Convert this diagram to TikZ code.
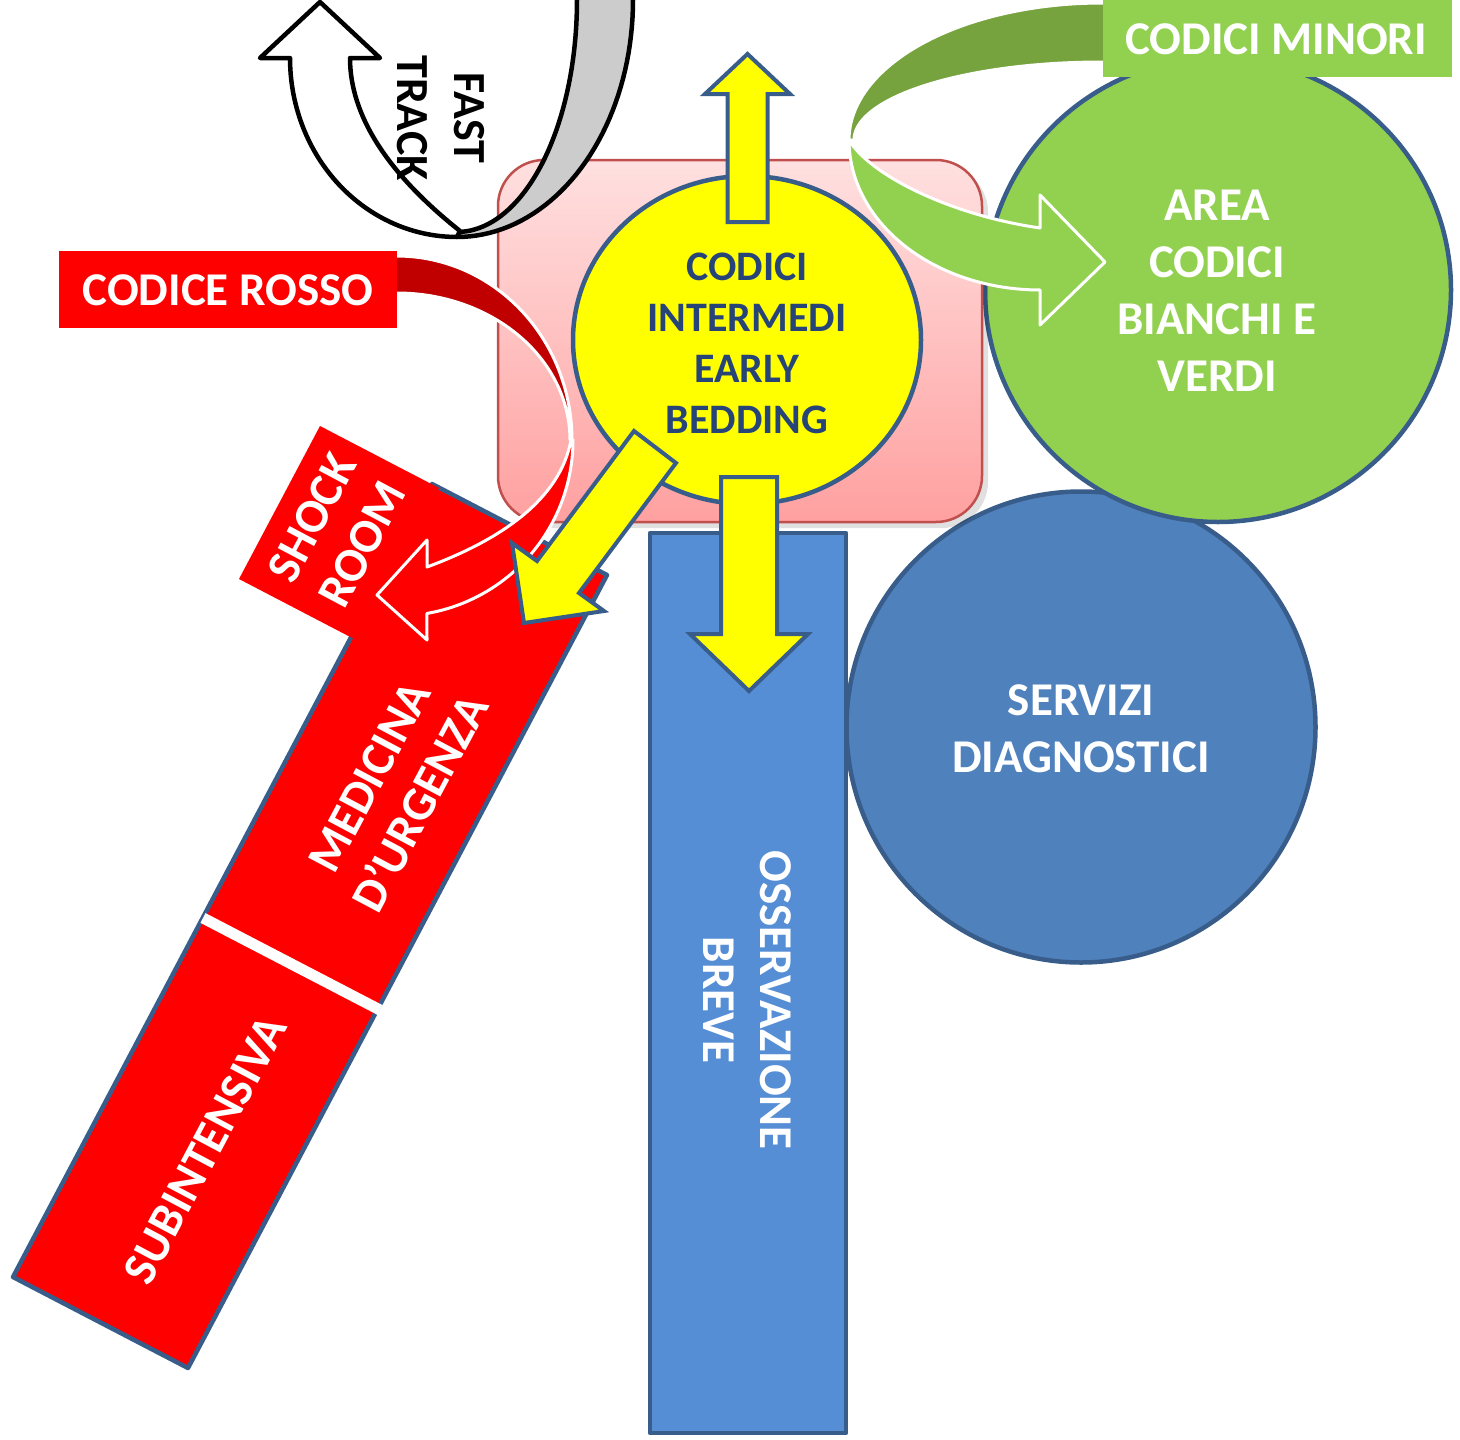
\documentclass[tikz,border=0pt]{standalone}
\usepackage{fontspec}
\setmainfont{Carlito}
\usetikzlibrary{shapes.geometric}

\definecolor{bordoblu}{HTML}{385D8A}
\definecolor{giallo}{HTML}{FFFF00}
\definecolor{testoblu}{HTML}{264478}
\definecolor{verde}{HTML}{92D050}
\definecolor{verdescuro}{HTML}{77A33F}
\definecolor{blucerchio}{HTML}{4F81BD}
\definecolor{blurett}{HTML}{558ED5}
\definecolor{rosso}{HTML}{FF0000}
\definecolor{rossoscuro}{HTML}{C00000}
\definecolor{rosacima}{HTML}{FFE0E0}
\definecolor{rosafondo}{HTML}{FFA0A0}
\definecolor{bordorosa}{HTML}{C0504D}
\definecolor{grigio}{HTML}{CCCCCC}

\tikzset{
  testo/.style={text=white, font=\bfseries\fontsize{47}{57}\selectfont, align=center, inner sep=0pt},
  testoruotato/.style={testo, font=\bfseries\fontsize{48}{57}\selectfont},
  bordato/.style={draw=bordoblu, line width=4.5pt, line join=round},
  frecciagialla/.style={fill=giallo, draw=bordoblu, line width=4pt, line join=miter},
  nastro/.style={draw=white, line width=3pt, line join=round},
  nastronero/.style={draw=black, line width=4.5pt, line join=round},
}

\begin{document}
\begin{tikzpicture}[x=1pt, y=-1pt]
\useasboundingbox (0,0) rectangle (1460,1440);

% --- Medicina d'urgenza / subintensiva bar ---
\filldraw[fill=rosso, bordato] (13,1277) coordinate (ba) -- (188,1368) coordinate (bb)
  -- (607,575) coordinate (bc) -- (432,484) coordinate (bd) -- cycle;
\draw[white, line width=11pt] (203,918) coordinate (dl) -- (380,1010) coordinate (dr);
\node[testoruotato, rotate=62] (medicina) at (395,790) {MEDICINA\\D’URGENZA};
\node[testoruotato, rotate=62] (subint) at (205,1150) {SUBINTENSIVA};

% --- Shock room tab ---
\fill[rosso] (320,426) -- (439,488) -- (358,641) -- (239,579) -- cycle;
\node[testoruotato, rotate=62] (shock) at (337,531) {SHOCK\\ROOM};

% --- Osservazione breve ---
\node[rectangle, rotate=-90, fill=blurett, bordato, minimum width=900pt, minimum height=196pt, inner sep=0pt]
  (osserv) at (748,983) {};
\node[testo, rotate=-90] (osservtxt) at (747,1000) {OSSERVAZIONE\\BREVE};

% --- Servizi diagnostici ---
\node[ellipse, fill=blucerchio, bordato, minimum width=469pt, minimum height=471pt, inner sep=0pt]
  (servizi) at (1081,727) {};
\node[testo] (servizitxt) at (1081,729) {SERVIZI\\DIAGNOSTICI};

% --- Area codici bianchi e verdi ---
\node[ellipse, fill=verde, bordato, minimum width=466pt, minimum height=464pt, inner sep=0pt]
  (area) at (1218,290) {};
\node[testo] (areatxt) at (1217,291) {AREA\\CODICI\\BIANCHI E\\VERDI};

% --- Central area with its shadow ---
\fill[black, opacity=0.12, rounded corners=46pt] (503,166) rectangle (988,528);
\node[rectangle, rounded corners=46pt, top color=rosacima, bottom color=rosafondo,
  draw=bordorosa, line width=2.5pt, minimum width=484pt, minimum height=362pt]
  (centro) at (740,341) {};

% --- Fast track curved arrow ---
\filldraw[fill=grigio, nastronero]
  plot[domain=-15:90, samples=50] ({457+176*cos(\x)},{237*sin(\x)})
  -- plot[domain=90:-15, samples=50] ({457+120*cos(\x)},{232*sin(\x)}) -- cycle;
\filldraw[fill=white, nastronero]
  plot[domain=90:180, samples=50] ({457+167*cos(\x)},{58+179*sin(\x)})
  -- (260,58) -- (320,2) -- (380,58) -- (350,58)
  .. controls (350,115) and (387,173) .. (460,231) -- cycle;
\node[font=\bfseries\fontsize{46}{57}\selectfont, align=center, inner sep=0pt, rotate=-90]
  (fast) at (441,118) {FAST\\TRACK};

% --- Codici intermedi ---
\node[ellipse, fill=giallo, bordato, minimum width=348pt, minimum height=328pt, inner sep=0pt]
  (intermedi) at (747,340) {};
\node[testo, text=testoblu, font=\bfseries\fontsize{42}{51}\selectfont] (intermeditxt) at (747,343)
  {CODICI\\INTERMEDI\\EARLY\\BEDDING};

% --- Codici minori curved arrow ---
\filldraw[fill=verdescuro, nastro]
  (1112,3) -- plot[domain=-90:-180, samples=50] ({1102+253*cos(\x)},{140+137*sin(\x)})
  -- plot[domain=-180:-90, samples=50] ({1102+248*cos(\x)},{140+78*sin(\x)}) -- (1112,62) -- cycle;
\filldraw[fill=verde, nastro]
  plot[domain=180:90, samples=50] ({1040+191*cos(\x)},{140+150*sin(\x)})
  -- (1040,325) -- (1105,262) -- (1040,195) -- (1040,228)
  .. controls (950,215) and (870,175) .. (849,140) -- cycle;
\node[rectangle, fill=verde, minimum width=349pt, minimum height=77pt, inner sep=0pt]
  (minori) at (1277.5,38.5) {};
\node[testo] (minoritxt) at (1276,39) {CODICI MINORI};

% --- Codice rosso curved arrow ---
\filldraw[fill=rossoscuro, nastro]
  (388,256) -- plot[domain=-90:0, samples=50] ({397+175*cos(\x)},{440+184*sin(\x)})
  -- plot[domain=0:-90, samples=50] ({397+173*cos(\x)},{440+147*sin(\x)}) -- (388,293) -- cycle;
\filldraw[fill=rosso, nastro]
  plot[domain=0:80.2, samples=50] ({397+176*cos(\x)},{440+176*sin(\x)})
  -- (427,640) -- (377,595) -- (427,540) -- (427,567)
  .. controls (500,540) and (560,500) .. (571,440) -- cycle;
\node[rectangle, fill=rosso, minimum width=338pt, minimum height=77pt, inner sep=0pt]
  (rossobox) at (228,289.5) {};
\node[testo] (rossotxt) at (228,290) {CODICE ROSSO};

% --- Yellow arrows out of the central area ---
\filldraw[frecciagialla] (727.5,222) -- (727.5,94) -- (705,94) -- (747.5,54) -- (790,94)
  -- (767.5,94) -- (767.5,222) -- cycle;
\filldraw[frecciagialla] (721,477) -- (721,634) -- (690,634) -- (749,691) -- (808,634)
  -- (777,634) -- (777,477) -- cycle;
\filldraw[frecciagialla] (634,431) -- (676,463) -- (579,593) -- (604,611) -- (524,623)
  -- (512,543) -- (537,561) -- cycle;

\end{tikzpicture}
\end{document}
